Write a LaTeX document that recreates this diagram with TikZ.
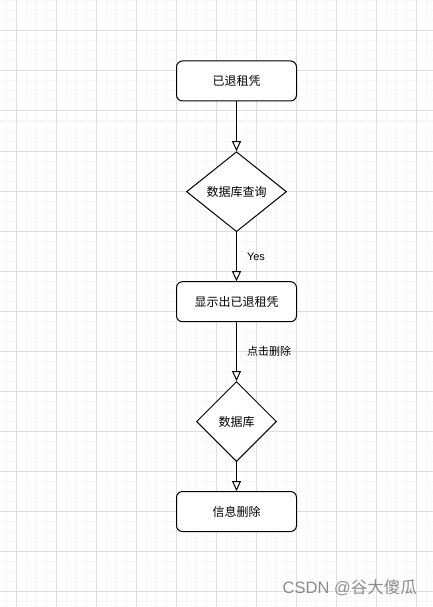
\documentclass[tikz,border=0pt]{standalone}
\usepackage{fontspec}
\setmainfont{Liberation Sans}
\newfontfamily\cjk{Noto Sans CJK SC}
\usetikzlibrary{shapes.geometric,arrows.meta}
\definecolor{minorgrid}{RGB}{247,247,247}
\definecolor{majorgrid}{RGB}{222,222,222}
\definecolor{wmgray}{RGB}{140,140,140}
\begin{document}
\begin{tikzpicture}[x=1pt,y=-1pt,
  proc/.style={draw,line width=1pt,rounded corners=6pt,minimum width=120pt,minimum height=40pt,inner sep=0pt,fill=white,font=\cjk\fontsize{12}{14}\selectfont},
  dec/.style={draw,diamond,line width=1pt,inner sep=0pt,fill=white,font=\cjk\fontsize{12}{14}\selectfont},
  flow/.style={line width=1pt,-{Triangle[fill=white,length=10pt,width=9pt]}},
  lbl/.style={anchor=west,inner sep=0pt,font=\fontsize{11}{13}\selectfont},
  minorline/.style={draw=minorgrid,line width=1pt},
  majorline/.style={draw=majorgrid,line width=1pt}
]
\useasboundingbox (0,0) rectangle (433,607);
\fill[white] (0,0) rectangle (433,607);
% grid
\foreach \x in {6,16,...,426} \draw[minorline] (\x,0) -- (\x,607);
\foreach \y in {1,11,...,601} \draw[minorline] (0,\y) -- (433,\y);
\foreach \x in {16,56,...,416} \draw[majorline] (\x,0) -- (\x,607);
\foreach \y in {31,71,...,591} \draw[majorline] (0,\y) -- (433,\y);
% nodes
\node[proc] (b1) at (236.5,81) {已退租凭};
\node[dec,minimum width=100pt,minimum height=80pt] (d1) at (236.5,191.7) {数据库查询};
\node[proc] (b2) at (236.5,301.7) {显示出已退租凭};
\node[dec,minimum width=80pt,minimum height=80pt] (d2) at (236.5,421.5) {数据库};
\node[proc] (b3) at (236.5,511.5) {信息删除};
% connectors
\draw[flow] (b1) -- (d1);
\draw[flow] (d1) -- node[lbl,xshift=10pt] {Yes} (b2);
\draw[flow] (b2) -- node[lbl,xshift=10pt] {\cjk 点击删除} (d2);
\draw[flow] (d2) -- (b3);
% watermark
\node[anchor=east,inner sep=0pt,text=wmgray,font=\fontsize{16.5}{18}\selectfont] (wm) at (417,588) {CSDN @{\cjk 谷大傻瓜}};
\end{tikzpicture}
\end{document}
